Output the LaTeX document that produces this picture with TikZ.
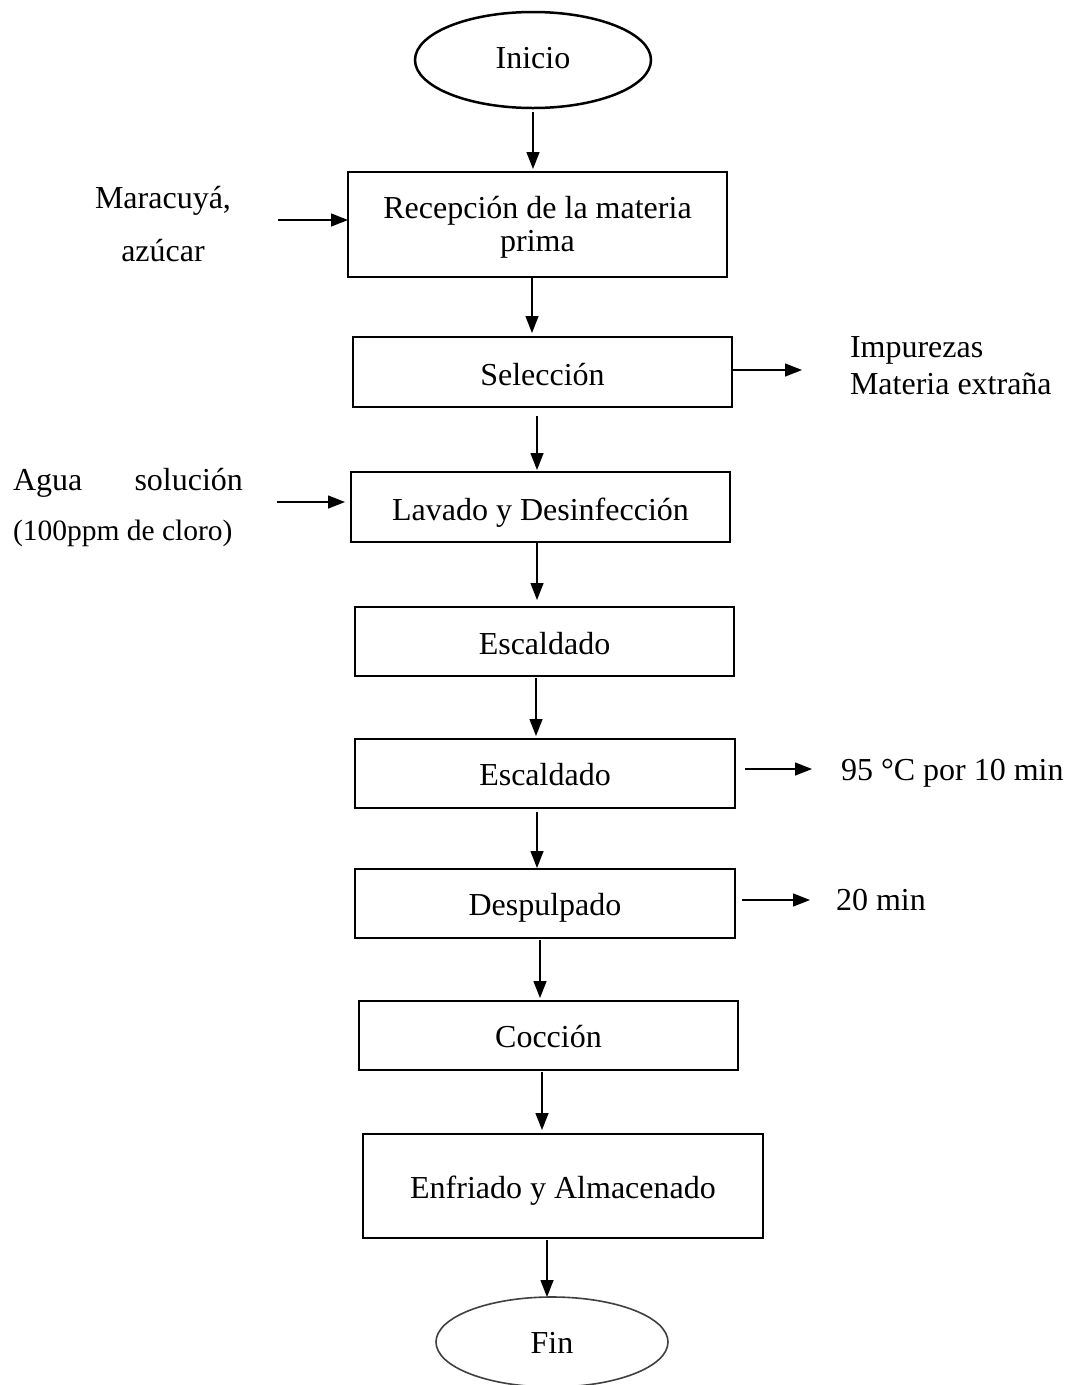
\documentclass[tikz,border=0pt]{standalone}
\usepackage{fontspec}
\setmainfont{Liberation Serif}
\usetikzlibrary{arrows.meta,shapes.geometric}
\begin{document}
\begin{tikzpicture}[x=1pt,y=-1pt,
  every node/.style={inner sep=0pt, outer sep=0pt},
  txt/.style={font=\fontsize{32}{36}\selectfont, anchor=base},
  stepbox/.style={draw, rectangle, line width=2.8pt},
  term/.style={draw, ellipse, line width=2.5pt},
  arr/.style={line width=1.4pt, -{Triangle[length=17pt,width=13pt]}}
]
\useasboundingbox (0,0) rectangle (1069,1385);
\fill[white] (0,0) rectangle (1069,1385);

% terminals
\node[term, minimum width=236pt, minimum height=96pt] (ini) at (533,60) {};
\node[txt] (tini) at (533,68) {Inicio};
\node[term, line width=1.6pt, draw=black!75, minimum width=232pt, minimum height=90pt] (fin) at (552,1342) {};
\node[txt] (tfin) at (552,1353) {Fin};

% process boxes
\node[stepbox, minimum width=379pt, minimum height=105pt] (b1) at (537.5,224.5) {};
\node[txt] (t1a) at (537.5,218) {Recepción de la materia};
\node[txt] (t1b) at (537.5,251) {prima};

\node[stepbox, minimum width=379pt, minimum height=70pt] (b2) at (542.5,372) {};
\node[txt] (t2) at (542.5,385) {Selección};

\node[stepbox, minimum width=379pt, minimum height=70pt] (b3) at (540.5,507) {};
\node[txt] (t3) at (540.5,520) {Lavado y Desinfección};

\node[stepbox, minimum width=379pt, minimum height=69pt] (b4) at (544.5,641.5) {};
\node[txt] (t4) at (544.5,654) {Escaldado};

\node[stepbox, minimum width=380pt, minimum height=69pt] (b5) at (545,773.5) {};
\node[txt] (t5) at (545,785) {Escaldado};

\node[stepbox, minimum width=380pt, minimum height=69pt] (b6) at (545,903.5) {};
\node[txt] (t6) at (545,915) {Despulpado};

\node[stepbox, minimum width=379pt, minimum height=69pt] (b7) at (548.5,1035.5) {};
\node[txt] (t7) at (548.5,1047) {Cocción};

\node[stepbox, minimum width=400pt, minimum height=104pt] (b8) at (563,1186) {};
\node[txt] (t8) at (563,1198) {Enfriado y Almacenado};

% side texts
\node[txt] (m1) at (163,208) {Maracuyá,};
\node[txt] (m2) at (163,261) {azúcar};
\node[txt, anchor=base west] (w1) at (13,490) {\hbox to 230pt{Agua\hfill solución}};
\node[txt, font=\fontsize{29.5}{34}\selectfont, anchor=base west] (w2) at (13,540) {(100ppm de cloro)};
\node[txt, anchor=base west] (imp1) at (850,357) {Impurezas};
\node[txt, anchor=base west] (imp2) at (850,394) {Materia extraña};
\node[txt, anchor=base west] (temp) at (841,780) {95 °C por 10 min};
\node[txt, anchor=base west] (tim) at (836,910) {20 min};

% vertical connectors
\draw[arr, shorten <=4pt, shorten >=3pt] (ini.south) -- (ini.south |- b1.north);
\draw[arr, shorten >=4pt] ([xshift=-5.5pt]b1.south) -- ([xshift=-5.5pt]b1.south |- b2.north);
\draw[arr, shorten <=9pt, shorten >=2pt] ([xshift=-5.5pt]b2.south) -- ([xshift=-5.5pt]b2.south |- b3.north);
\draw[arr, shorten <=1pt, shorten >=7pt] ([xshift=-3.5pt]b3.south) -- ([xshift=-3.5pt]b3.south |- b4.north);
\draw[arr, shorten <=2pt, shorten >=3pt] ([xshift=-8.5pt]b4.south) -- ([xshift=-8.5pt]b4.south |- b5.north);
\draw[arr, shorten <=4pt, shorten >=1pt] ([xshift=-8pt]b5.south) -- ([xshift=-8pt]b5.south |- b6.north);
\draw[arr, shorten <=2pt, shorten >=3pt] ([xshift=-5pt]b6.south) -- ([xshift=-5pt]b6.south |- b7.north);
\draw[arr, shorten <=2pt, shorten >=4pt] ([xshift=-6.5pt]b7.south) -- ([xshift=-6.5pt]b7.south |- b8.north);
\draw[arr, shorten <=2pt] ([xshift=-16pt]b8.south) -- ([xshift=-16pt]b8.south |- fin.north);

% side connectors
\coordinate (l1s) at (278,220);
\draw[arr] (l1s) -- (b1.west |- l1s);
\coordinate (l2s) at (277,502);
\draw[arr, shorten >=6pt] (l2s) -- (b3.west |- l2s);
\coordinate (r1e) at (802,370);
\draw[arr, shorten <=1pt] (b2.east |- r1e) -- (r1e);
\coordinate (r2e) at (812,769);
\draw[arr, shorten <=10pt] (b5.east |- r2e) -- (r2e);
\coordinate (r3e) at (810,900);
\draw[arr, shorten <=7pt] (b6.east |- r3e) -- (r3e);
\end{tikzpicture}
\end{document}
